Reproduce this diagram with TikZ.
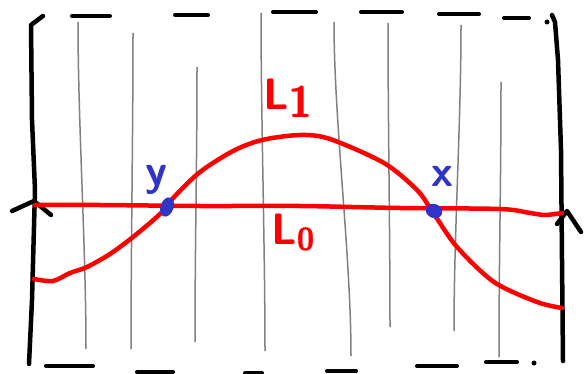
\documentclass[tikz,border=0pt]{standalone}
\usetikzlibrary{shapes.geometric,positioning}
\definecolor{penred}{RGB}{255,0,0}
\definecolor{penblue}{RGB}{48,52,200}
\definecolor{pengray}{RGB}{128,128,128}
\begin{document}
\begin{tikzpicture}[x=1pt,y=-1pt,
    frame/.style={line width=4.5pt, line cap=round, line join=round},
    dash stroke/.style={line width=4pt, line cap=round},
    fibre/.style={pengray, line width=1.5pt},
    curve/.style={penred, line width=4.5pt, line cap=round, line join=round},
    dot/.style={ellipse, fill=penblue, inner sep=0pt},
    lbl/.style={font=\sffamily\bfseries\fontsize{44}{44}\selectfont, inner sep=0pt}]
  \useasboundingbox (0,0) rectangle (584,374);
  % vertical fibres
  \foreach \xa/\ya/\xb/\yb in {78/22/86/349, 133/33/131/349, 197/67/195/342, 261/13/265/351,
      334/22/351/356, 388/23/390/327, 461/25/454/331, 501/82/499/357}
    \draw[fibre] (\xa,\ya) .. controls (\xa,{\ya+100}) and (\xb,{\yb-100}) .. (\xb,\yb);
  % left and right sides
  \draw[frame] (43,16) -- (31,25) -- (32,120) -- (35,190) -- (32,300) -- (29,364);
  \draw[frame] (552,15) -- (555,22) -- (558,60) -- (561,150) -- (562,260) -- (563,361);
  \draw[frame] (12,211) -- (34,201) -- (51,215);
  \draw[frame] (557,224) -- (567,211) -- (581,232);
  % top and bottom dashes
  \foreach \xa/\xb/\y in {72/110/16, 175/208/15, 273/316/12, 361/402/12, 439/479/14, 504/529/18,
      46/93/366, 137/173/372, 245/262/373, 327/356/371, 417/457/366, 486/517/362}
    \draw[dash stroke] (\xa,\y) -- (\xb,\y);
  \fill (547,22) circle (2.5pt);
  \fill (534,363) circle (2.5pt);
  % the two curves
  \draw[curve] plot[smooth] coordinates {(35,205) (100,205) (200,206) (300,206) (400,208)
      (500,209) (530,213) (545,215) (562,213)};
  \draw[curve] plot[smooth] coordinates {(34,279) (53,281) (70,273) (87,267) (110,254)
      (133,237) (160,214) (175,196) (200,172) (233,151) (262,140) (300,135) (330,139)
      (384,163) (417,190) (432,211) (457,247) (494,282) (537,302) (562,308)};
  % crossing points
  \node[dot, minimum width=13pt, minimum height=20pt, rotate=-20] (ydot) at (167,207) {};
  \node[dot, minimum width=17pt, minimum height=14pt, rotate=-20] (xdot) at (434,211) {};
  \node[lbl, penblue] (ylbl) at (156,180) {y};
  \node[lbl, penblue] (xlbl) at (442,176) {x};
  \node[lbl, penred] (lone) at (288,98) {L\raisebox{-8pt}{1}};
  \node[lbl, penred] (lzero) at (293,233) {L\raisebox{-6pt}{\fontsize{32}{32}\selectfont 0}};
\end{tikzpicture}
\end{document}
